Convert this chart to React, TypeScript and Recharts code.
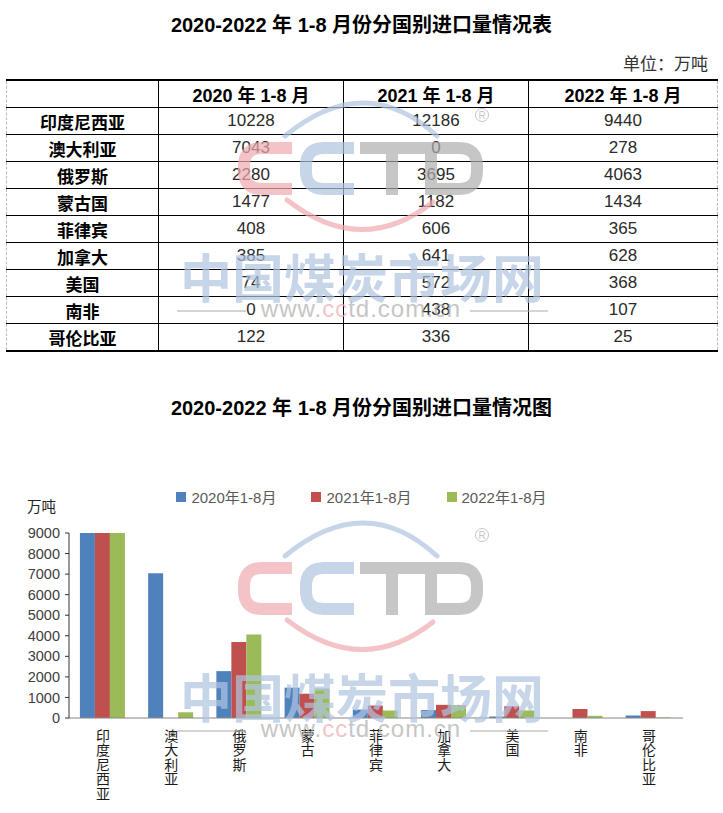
import React from "react";
import { BarChart, Bar, XAxis, YAxis, Legend } from "recharts";

const countries = ["印度尼西亚", "澳大利亚", "俄罗斯", "蒙古国", "菲律宾", "加拿大", "美国", "南非", "哥伦比亚"];
const axisNames = ["印度尼西亚", "澳大利亚", "俄罗斯", "蒙古", "菲律宾", "加拿大", "美国", "南非", "哥伦比亚"];
const periods = ["2020年1-8月", "2021年1-8月", "2022年1-8月"];
const headerLabels = ["2020 年 1-8 月", "2021 年 1-8 月", "2022 年 1-8 月"];
const v2020 = [10228, 7043, 2280, 1477, 408, 385, 74, 0, 122];
const v2021 = [12186, 0, 3695, 1182, 606, 641, 572, 438, 336];
const v2022 = [9440, 278, 4063, 1434, 365, 628, 368, 107, 25];
const yTicks = [0, 1000, 2000, 3000, 4000, 5000, 6000, 7000, 8000, 9000];
const bounds = [0, 1, 2, 3, 4, 5, 6, 7, 8, 9];

const colors = ["#4F81BD", "#C0504D", "#9BBB59"];
const keys = ["y2020", "y2021", "y2022"];

const series = [v2020, v2021, v2022];
const data = axisNames.map((name, i) => ({
  name,
  y2020: v2020[i],
  y2021: v2021[i],
  y2022: v2022[i],
}));

const latin = "'Liberation Sans', Arial, 'Noto Sans CJK SC', sans-serif";
const cjk = "'Noto Sans CJK SC', 'Liberation Sans', sans-serif";

// watermark colours (drawn at 0.7 opacity)
const wmPink = "#efabb0";
const wmBlue = "#b0c4e1";
const wmGray = "#aeaeae";

const VerticalTick = (props: any) => {
  const { x, y, payload } = props;
  const chars = Array.from(String(payload.value));
  return (
    <text x={x} y={y} textAnchor="middle" fontSize={14} fill="#1a1a1a" fontFamily={cjk}>
      {chars.map((c, i) => (
        <tspan key={i} x={x} dy={i === 0 ? 23 : 14.4}>
          {c}
        </tspan>
      ))}
    </text>
  );
};

const LegendContent = () => (
  <div style={{ display: "flex", justifyContent: "center", gap: 35, fontFamily: latin }}>
    {periods.map((p, i) => (
      <div key={p} style={{ display: "flex", alignItems: "center", fontSize: 15, color: "#595959" }}>
        <span style={{ width: 10, height: 10, background: colors[i], marginRight: 5, display: "inline-block" }} />
        {p}
      </div>
    ))}
  </div>
);

const WatermarkMark = ({ dy }: { dy: number }) => (
  <g transform={`translate(0, ${dy})`}>
    <path d="M285,556 Q365,490 437,556" stroke={wmBlue} strokeWidth={5} fill="none" strokeLinecap="round" />
    <path d="M287,620 Q362,678 433,622" stroke={wmPink} strokeWidth={5} fill="none" strokeLinecap="round" />
    <g fill="none" strokeWidth={12}>
      <path d="M292,568 H262 Q244,568 244,586 V591 Q244,609 262,609 H292" stroke={wmPink} />
      <path d="M354,568 H324 Q306,568 306,586 V591 Q306,609 324,609 H354" stroke={wmBlue} />
      <path d="M360,568 H431 M392,574 V615" stroke={wmGray} />
      <path d="M431,615 V568 H459 Q477,568 477,586 V591 Q477,609 459,609 H431" stroke={wmGray} />
    </g>
    <circle cx={482} cy={535} r={6.5} fill="none" stroke={wmGray} strokeWidth={1} />
    <text x={482} y={539} fontSize={10} fill={wmGray} textAnchor="middle" fontFamily={latin}>
      R
    </text>
    <text x={362} y={718} fontSize={52} fill={wmBlue} textAnchor="middle" fontFamily={cjk} fontWeight={700}>
      中国煤炭市场网
    </text>
    <line x1={177} y1={731} x2={246} y2={731} stroke={wmGray} strokeWidth={1.5} />
    <line x1={470} y1={731} x2={548} y2={731} stroke={wmGray} strokeWidth={1.5} />
    <text x={361} y={737} fontSize={24} letterSpacing={1} fill={wmGray} textAnchor="middle" fontFamily={latin}>
      www.<tspan fill={wmPink}>cc</tspan>td.com.cn
    </text>
  </g>
);

const cellBase: React.CSSProperties = {
  border: "1px solid #000",
  padding: 0,
  height: 26,
  textAlign: "center",
  verticalAlign: "middle",
};

export default function App() {
  return (
    <div
      style={{
        position: "relative",
        width: 723,
        height: 813,
        background: "#fff",
        overflow: "hidden",
        fontFamily: latin,
      }}
    >
      <style>{`body{margin:0}`}</style>

      <div
        style={{
          position: "absolute",
          top: 13,
          left: 0,
          width: 723,
          height: 24,
          lineHeight: "24px",
          textAlign: "center",
          fontSize: 20,
          fontWeight: "bold",
          color: "#000",
        }}
      >
        2020-2022 年 1-8 月份分国别进口量情况表
      </div>

      <div
        style={{
          position: "absolute",
          top: 52,
          right: 15,
          height: 22,
          lineHeight: "22px",
          fontSize: 17,
          color: "#333",
          fontFamily: cjk,
        }}
      >
        单位：万吨
      </div>

      <table
        style={{
          position: "absolute",
          left: 6,
          top: 79,
          width: 711,
          borderCollapse: "collapse",
          tableLayout: "fixed",
        }}
      >
        <colgroup>
          <col style={{ width: 152 }} />
          <col style={{ width: 185 }} />
          <col style={{ width: 185 }} />
          <col style={{ width: 189 }} />
        </colgroup>
        <thead>
          <tr>
            <th style={{ ...cellBase, borderTop: "2px solid #000", borderLeft: "1px dashed #bbb" }} />
            {headerLabels.map((h, i) => (
              <th
                key={h}
                style={{
                  ...cellBase,
                  borderTop: "2px solid #000",
                  borderRight: i === 2 ? "1px dashed #bbb" : "1px solid #000",
                  fontSize: 18,
                  fontWeight: "bold",
                  color: "#000",
                  fontFamily: latin,
                }}
              >
                {h}
              </th>
            ))}
          </tr>
        </thead>
        <tbody>
          {countries.map((c, r) => {
            const last = r === countries.length - 1;
            return (
              <tr key={c}>
                <td
                  style={{
                    ...cellBase,
                    borderLeft: "1px dashed #bbb",
                    borderBottom: last ? "2px solid #000" : "1px solid #000",
                    fontSize: 17,
                    fontWeight: "bold",
                    color: "#000",
                    fontFamily: cjk,
                  }}
                >
                  {c}
                </td>
                {series.map((s, k) => (
                  <td
                    key={k}
                    style={{
                      ...cellBase,
                      borderRight: k === 2 ? "1px dashed #bbb" : "1px solid #000",
                      borderBottom: last ? "2px solid #000" : "1px solid #000",
                      fontSize: 17,
                      color: "#2a2a2a",
                      fontFamily: latin,
                    }}
                  >
                    {s[r]}
                  </td>
                ))}
              </tr>
            );
          })}
        </tbody>
      </table>

      <div
        style={{
          position: "absolute",
          top: 396,
          left: 0,
          width: 723,
          height: 24,
          lineHeight: "24px",
          textAlign: "center",
          fontSize: 20,
          fontWeight: "bold",
          color: "#000",
        }}
      >
        2020-2022 年 1-8 月份分国别进口量情况图
      </div>

      <div
        style={{
          position: "absolute",
          top: 496,
          left: 27,
          height: 20,
          lineHeight: "20px",
          fontSize: 14.5,
          color: "#222",
          fontFamily: cjk,
        }}
      >
        万吨
      </div>

      <div style={{ position: "absolute", top: 470, left: 0 }}>
        <BarChart
          width={723}
          height={343}
          data={data}
          margin={{ top: 63, right: 40, bottom: 5, left: 0 }}
          barCategoryGap="16%"
          barGap={0}
        >
          <XAxis
            xAxisId="bounds"
            type="number"
            domain={[0, 9]}
            ticks={bounds}
            allowDataOverflow
            mirror
            height={0}
            axisLine={false}
            tickLine={{ stroke: "#868686" }}
            tickSize={5}
            tick={() => <g />}
          />
          <XAxis
            dataKey="name"
            height={90}
            interval={0}
            axisLine={{ stroke: "#868686" }}
            tickLine={false}
            tickSize={0}
            tickMargin={0}
            tick={<VerticalTick />}
          />
          <YAxis
            width={69}
            domain={[0, 9000]}
            ticks={yTicks}
            allowDataOverflow
            interval={0}
            axisLine={{ stroke: "#333" }}
            tickLine={{ stroke: "#333" }}
            tickSize={4}
            tickMargin={5}
            tick={{ fontSize: 14.5, fill: "#404040", fontFamily: latin }}
          />
          <Legend
            verticalAlign="middle"
            align="center"
            layout="horizontal"
            wrapperStyle={{ top: 16, left: 0, width: 723 }}
            content={<LegendContent />}
          />
          {keys.map((k, i) => (
            <Bar key={k} dataKey={k} name={periods[i]} fill={colors[i]} isAnimationActive={false} />
          ))}
        </BarChart>
      </div>

      <svg
        width={723}
        height={813}
        style={{ position: "absolute", left: 0, top: 0, pointerEvents: "none", opacity: 0.7 }}
      >
        <WatermarkMark dy={-420} />
        <WatermarkMark dy={0} />
      </svg>
    </div>
  );
}
